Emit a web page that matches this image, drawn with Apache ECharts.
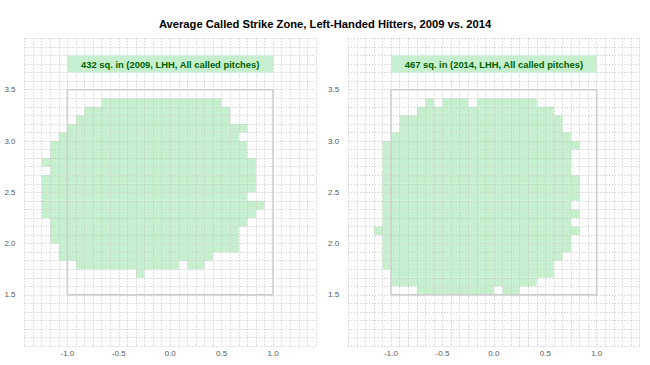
<!DOCTYPE html>
<html>
<head>
<meta charset="utf-8">
<script src="https://cdn.jsdelivr.net/npm/echarts@6/dist/echarts.min.js"></script>
<style>
html,body{margin:0;padding:0;background:#fff;}
#chart{width:650px;height:365px;}
</style>
</head>
<body>
<div id="chart"></div>
<script>
// ---- DATA (all in inches; 1 cell = 1 sq. inch) ----
const chartTitle = 'Average Called Strike Zone, Left-Handed Hitters, 2009 vs. 2014';
const panelLabels = ['432 sq. in (2009, LHH, All called pitches)', '467 sq. in (2014, LHH, All called pitches)'];
// called-strike cells: [rowBottomInch, firstColInch, endColInch)
const cells2009 = [
  [40,-8,6],[39,-10,7],[38,-11,7],[37,-12,9],[36,-13,8],[35,-14,9],[34,-14,9],
  [33,-15,10],[32,-14,10],[31,-15,10],[30,-15,10],[29,-15,9],[28,-15,11],[27,-15,10],
  [26,-14,9],[25,-14,8],[24,-14,8],[23,-13,8],[22,-13,5],[21,-11,1],[21,2,4],[20,-4,-3]
];
const cells2014 = [
  [40,-8,-7],[40,-6,-3],[40,-2,5],[39,-9,7],[38,-11,8],[37,-11,8],[36,-12,9],
  [35,-13,10],[34,-13,9],[33,-13,9],[32,-13,9],[31,-13,10],[30,-13,10],[29,-13,10],
  [28,-13,9],[27,-13,10],[26,-13,9],[25,-14,10],[24,-13,9],[23,-13,9],[22,-13,8],
  [21,-13,7],[20,-12,7],[19,-12,5],[18,-9,0],[18,1,3]
];
// rulebook zone box (feet)
const zoneX = [-1.0, 1.0];
const zoneZ = [1.5, 3.5];
// label box (inches): [x0, x1, y0, y1]
const labelBox = [-12, 12, 44, 46];
// axis ranges (inches) and tick labels (feet)
const xRange = [-17, 17];
const yRange = [12, 48];
const xTickValues = [-1.0, -0.5, 0.0, 0.5, 1.0];
const xTickLabels = ['-1.0', '-0.5', '0.0', '0.5', '1.0'];
const yTickValues = [1.5, 2.0, 2.5, 3.0, 3.5];
const yTickLabels = ['1.5', '2.0', '2.5', '3.0', '3.5'];

// ---- CHART ----
const FONT = "'Liberation Sans Narrow', 'Arial Narrow', 'Liberation Sans', sans-serif";
const GREEN = '#c6efce';
const grids = [
  {left: 24.5, top: 38.4, width: 291.4, height: 307.8},
  {left: 348.2, top: 38.4, width: 291.4, height: 307.8}
];
function tickFmt(values, labels) {
  return function (v) {
    for (let i = 0; i < values.length; i++) {
      if (Math.abs(values[i] * 12 - v) < 1e-6) return labels[i];
    }
    return '';
  };
}
const splitStyle = {show: true, lineStyle: {color: '#c2c2c2', width: 1, type: [1, 2]}};
const xAxes = grids.map((g, i) => ({
  type: 'value', gridIndex: i, min: xRange[0], max: xRange[1], interval: 1, z: 3,
  axisLine: {show: false}, axisTick: {show: false}, splitLine: splitStyle,
  axisLabel: {interval: 0, formatter: tickFmt(xTickValues, xTickLabels), margin: 3,
    fontSize: 8, color: '#595959', fontFamily: FONT}
}));
const yAxes = grids.map((g, i) => ({
  type: 'value', gridIndex: i, min: yRange[0], max: yRange[1], interval: 1, z: 3,
  axisLine: {show: false}, axisTick: {show: false}, splitLine: splitStyle,
  axisLabel: {interval: 0, formatter: tickFmt(yTickValues, yTickLabels), margin: 9,
    fontSize: 8, color: '#595959', fontFamily: FONT}
}));
function cellSeries(cells, i) {
  return {
    type: 'custom', xAxisIndex: i, yAxisIndex: i, z: 2, silent: true,
    data: cells,
    encode: {x: [1, 2], y: 0},
    renderItem: function (params, api) {
      const row = api.value(0), c0 = api.value(1), c1 = api.value(2);
      const p0 = api.coord([c0, row + 1]);
      const p1 = api.coord([c1, row]);
      return {type: 'rect', shape: {x: p0[0], y: p0[1], width: p1[0] - p0[0], height: p1[1] - p0[1]},
        style: {fill: GREEN}};
    }
  };
}
function zoneSeries(i) {
  const pts = [[zoneX[0], zoneZ[0]], [zoneX[1], zoneZ[0]], [zoneX[1], zoneZ[1]], [zoneX[0], zoneZ[1]], [zoneX[0], zoneZ[0]]]
    .map(p => [p[0] * 12, p[1] * 12]);
  return {type: 'line', xAxisIndex: i, yAxisIndex: i, z: 4, silent: true, symbol: 'none',
    data: pts, lineStyle: {color: '#cfcfcf', width: 1.6}, animation: false};
}
function labelSeries(i) {
  return {
    type: 'custom', xAxisIndex: i, yAxisIndex: i, z: 5, silent: true,
    data: [labelBox], encode: {x: [0, 1], y: [2, 3]},
    renderItem: function (params, api) {
      const p0 = api.coord([api.value(0), api.value(3)]);
      const p1 = api.coord([api.value(1), api.value(2)]);
      return {type: 'group', children: [
        {type: 'rect', shape: {x: p0[0], y: p0[1], width: p1[0] - p0[0], height: p1[1] - p0[1]}, style: {fill: GREEN}},
        {type: 'text', style: {text: panelLabels[i], x: (p0[0] + p1[0]) / 2, y: (p0[1] + p1[1]) / 2,
          align: 'center', verticalAlign: 'middle', fill: '#006100',
          font: 'bold 9.4px ' + FONT}}
      ]};
    }
  };
}
const chart = echarts.init(document.getElementById('chart'), null, {renderer: 'svg'});
chart.setOption({
  animation: false,
  backgroundColor: '#ffffff',
  title: {text: chartTitle, left: 'center', top: 13,
    textStyle: {fontSize: 11.2, fontWeight: 'bold', color: '#000', fontFamily: FONT}},
  grid: grids.map(g => Object.assign({containLabel: false}, g)),
  xAxis: xAxes,
  yAxis: yAxes,
  series: [cellSeries(cells2009, 0), cellSeries(cells2014, 1), zoneSeries(0), zoneSeries(1), labelSeries(0), labelSeries(1)]
});
</script>
</body>
</html>
